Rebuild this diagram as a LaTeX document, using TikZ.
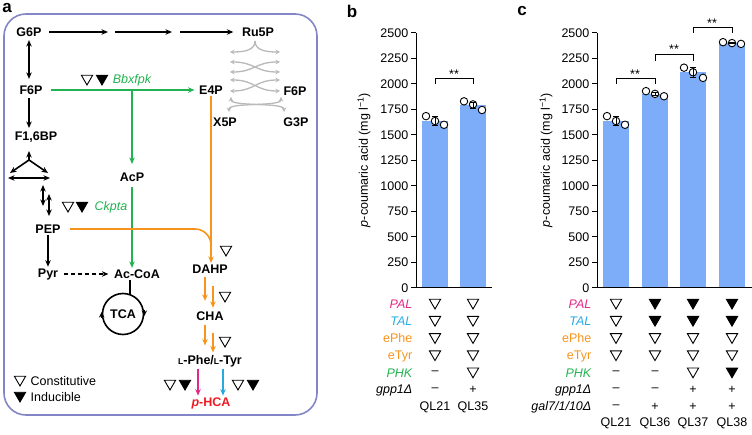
\documentclass[tikz,border=0pt]{standalone}
\usepackage{fontspec}
\setmainfont{Liberation Sans}
\usetikzlibrary{arrows.meta,shapes.geometric}
\definecolor{boxline}{RGB}{130,134,198}
\definecolor{pkgreen}{RGB}{35,178,80}
\definecolor{aroorange}{RGB}{247,148,30}
\definecolor{palpink}{RGB}{228,40,135}
\definecolor{talblue}{RGB}{40,170,225}
\definecolor{hcared}{RGB}{237,28,36}
\definecolor{pppgray}{RGB}{185,185,185}
\definecolor{barblue}{RGB}{125,172,248}
\newcommand{\smallL}{{\fontsize{8.5}{8.5}\selectfont L}}
\newcommand{\ylab}{\textit{p}-coumaric acid (mg l\textsuperscript{−1})}

\begin{document}
\begin{tikzpicture}[x=1pt,y=-1pt,>={Stealth[length=6.5pt,width=5.5pt]},
    every node/.style={font=\fontsize{12.5}{14}\selectfont,inner sep=1.5pt},
    met/.style={font=\fontsize{12.5}{14}\selectfont\bfseries},
    panel/.style={font=\fontsize{17}{18}\selectfont\bfseries},
    gene/.style={font=\fontsize{12.5}{14}\selectfont\itshape},
    flux/.style={line width=1.6pt,->},
    dflux/.style={line width=1.6pt,<->},
    gflux/.style={flux,pkgreen},
    oflux/.style={flux,aroorange},
    ppp/.style={pppgray,line width=1.3pt,{Stealth[length=4.5pt,width=4.5pt]}-{Stealth[length=4.5pt,width=4.5pt]}},
    pppend/.style={pppgray,line width=1.3pt,-{Stealth[length=4.5pt,width=4.5pt]}},
    opentri/.style={draw,regular polygon,regular polygon sides=3,shape border rotate=180,minimum size=13pt,inner sep=0pt,line width=0.9pt,yshift=1.5pt},
    filltri/.style={opentri,fill=black},
    cello/.style={opentri,node contents={}},
    cellf/.style={filltri,node contents={}},
    celln/.style={node contents={–}},
    cellp/.style={node contents={+}},
    dot/.style={circle,draw,fill=white,minimum size=7.5pt,inner sep=0pt,line width=0.9pt},
    errbar/.style={line width=0.9pt},
    sig/.style={line width=0.8pt},
    axisline/.style={line width=1pt},
    rowlab/.style={anchor=east}]
\useasboundingbox (0,0) rectangle (752,435);

\node[panel] (la) at (7,8) {a};
\draw[boxline,line width=1.6pt,rounded corners=22pt] (4,14) rectangle (317,415);

\node[met] (g6p) at (29,32) {G6P};
\node[met] (ru5p) at (258,32) {Ru5P};
\node[met] (f6p) at (31,90) {F6P};
\node[met] (e4p) at (211,90) {E4P};
\node[met] (f6pb) at (295,91) {F6P};
\node[met] (x5p) at (225,122) {X5P};
\node[met] (g3p) at (296,122) {G3P};
\node[met] (f16bp) at (36,137) {F1,6BP};
\node[met] (acp) at (132,177) {AcP};
\node[met] (pep) at (48,229) {PEP};
\node[met] (pyr) at (48,274) {Pyr};
\node[met] (acoa) at (137,274) {Ac-CoA};
\node[met,circle,draw,line width=1.6pt,minimum size=41pt,inner sep=0pt] (tca) at (123,314) {TCA};
\node[met] (dahp) at (210,269) {DAHP};
\node[met] (cha) at (210,316) {CHA};
\node[met] (phe) at (210,361) {\smallL-Phe/\smallL-Tyr};
\node[met,text=hcared] (phca) at (211,403) {\textit{p}-HCA};

\coordinate (ox1) at (108,32);
\coordinate (ox2) at (115,32);
\coordinate (ox3) at (172,32);
\coordinate (ox4) at (180,32);
\draw[flux,shorten <=6pt] (g6p.east) -- (ox1);
\draw[flux] (ox2) -- (ox3);
\draw[flux,shorten >=7pt] (ox4) -- (ru5p.west);
\draw[dflux,shorten <=2pt,shorten >=5pt] (g6p.south) -- (g6p.south |- f6p.north);
\draw[flux,shorten <=2pt,shorten >=2pt] (f6p.south -| g6p.south) -- (f16bp.north -| g6p.south);

\coordinate (fj) at (29,160);
\coordinate (fu) at (29,151);
\coordinate (fl) at (10,173);
\coordinate (fr) at (48,173);
\coordinate (gl) at (8,178);
\coordinate (gr) at (50,178);
\draw[flux] (fj) -- (fu);
\draw[flux] (fj) -- (fl);
\draw[flux] (fj) -- (fr);
\draw[dflux] (gl) -- (gr);

\coordinate (pa1) at (43,185);
\coordinate (pa2) at (43,206);
\coordinate (pb1) at (49,194);
\coordinate (pb2) at (49,216);
\draw[dflux] (pa1) -- (pa2);
\draw[dflux] (pb1) -- (pb2);

\coordinate (jb) at (132,90);
\draw[gflux,shorten <=7pt,shorten >=3pt] (f6p.east) -- (e4p.west);
\draw[gflux,shorten >=7pt] (jb) -- (acp.north);
\draw[gflux,shorten <=4pt] (acp.south) -- (acp.south |- acoa.north);
\node[opentri] (bbo) at (87,80) {};
\node[filltri] (bbf) at (102,80) {};
\node[gene,text=pkgreen] (bbx) at (132,80) {Bbxfpk};
\node[opentri] (cko) at (68,207) {};
\node[filltri] (ckf) at (82,207) {};
\node[gene,text=pkgreen] (ckp) at (111,207) {Ckpta};

\draw[flux] (pep) -- (pyr);
\draw[flux,dash pattern=on 4pt off 3pt,shorten <=4pt,shorten >=4pt] (pyr) -- (acoa);
\draw[line width=1.6pt] (acoa.south -| tca.70) -- (tca.70);
\draw[line width=1.6pt,-{Stealth[length=5.5pt,width=5.5pt]}] ([yshift=-4pt]tca.west) -- ([yshift=2pt]tca.west);
\draw[line width=1.6pt,-{Stealth[length=5.5pt,width=5.5pt]}] ([yshift=4pt]tca.east) -- ([yshift=-2pt]tca.east);

\coordinate (oj) at (pep.east -| e4p.south);
\draw[oflux] (e4p.south) -- (e4p.south |- dahp.north);
\draw[aroorange,line width=1.6pt,rounded corners=16pt,shorten <=8pt] (pep.east) -- (oj) -- ++(0,30);
\draw[oflux,shorten <=2pt,shorten >=9pt] ([xshift=-5pt]dahp.south) -- ([xshift=-5pt]cha.north);
\draw[oflux,shorten <=11pt,shorten >=2pt] ([xshift=3pt]dahp.south) -- ([xshift=3pt]cha.north);
\draw[oflux,shorten <=3pt,shorten >=8pt] ([xshift=-5pt]cha.south) -- ([xshift=-5pt]phe.north);
\draw[oflux,shorten <=11pt,shorten >=1pt] ([xshift=3pt]cha.south) -- ([xshift=3pt]phe.north);
\node[opentri] (dao) at (226,251) {};
\node[opentri] (cho) at (225,297) {};
\node[opentri] (pho) at (225,342) {};

\coordinate (mk) at ([xshift=-12pt]phe.south);
\coordinate (cy) at ([xshift=13pt]phe.south);
\draw[flux,palpink] (mk) -- (mk |- phca.north);
\draw[flux,talblue] (cy) -- (cy |- phca.north);
\node[opentri] (pao) at (170,385) {};
\node[filltri] (paf) at (185,385) {};
\node[opentri] (tao) at (238,385) {};
\node[filltri] (taf) at (253,385) {};

\node[opentri] (lgo) at (20,381) {};
\node[anchor=west] (lgot) at (29,381) {Constitutive};
\node[filltri] (lgf) at (20,397) {};
\node[anchor=west] (lgft) at (29,397) {Inducible};

\coordinate (pv) at (255,41);
\coordinate (pl1) at (230,52);
\coordinate (pr1) at (280,52);
\coordinate (pl2) at (230,62);
\coordinate (pr2) at (280,62);
\coordinate (pl3) at (230,72);
\coordinate (pr3) at (280,72);
\coordinate (pl4) at (230,80);
\coordinate (pr4) at (280,80);
\coordinate (pl5) at (230,91);
\coordinate (pr5) at (280,91);
\coordinate (pl6) at (231,97);
\coordinate (pr6) at (281,97);
\coordinate (pl7) at (229,112);
\coordinate (pr7) at (284,112);
\draw[pppend] (pv) .. controls (255,50) and (245,52) .. (pl1);
\draw[pppend] (pv) .. controls (255,50) and (265,52) .. (pr1);
\draw[ppp] (pl2) .. controls (255,62) and (255,72) .. (pr3);
\draw[ppp] (pr2) .. controls (255,62) and (255,72) .. (pl3);
\draw[ppp] (pl4) .. controls (255,80) and (255,91) .. (pr5);
\draw[ppp] (pr4) .. controls (255,80) and (255,91) .. (pl5);
\draw[ppp] (pl6) .. controls (231,107) and (284,102) .. (pr7);
\draw[ppp] (pr6) .. controls (281,107) and (229,102) .. (pl7);

\node[panel] (lb) at (352,11) {b};
\node[rotate=90] (bylab) at (364,160) {\ylab};
\begin{scope}[shift={(416,288)},y=0.102pt]
  \fill[barblue] (6,0) rectangle (32,1637);
  \fill[barblue] (44,0) rectangle (70,1792);
  \draw[axisline] (0,2500) -- (0,0) -- (76,0);
  \foreach \v in {0,250,...,2500}{
    \draw[axisline] (0,\v) -- (-5,\v);
    \node[anchor=east] (bt\v) at (-6,\v) {\v};
  }
  \node[dot] (bp11) at (10,1685) {};
  \node[dot] (bp12) at (19,1637) {};
  \node[dot] (bp13) at (28,1600) {};
  \node[dot] (bp21) at (48,1830) {};
  \node[dot] (bp22) at (57,1800) {};
  \node[dot] (bp23) at (66,1745) {};
  \draw[errbar] (16,1592) -- (22,1592) (19,1592) -- (19,1682) (16,1682) -- (22,1682);
  \draw[errbar] (54,1762) -- (60,1762) (57,1762) -- (57,1822) (54,1822) -- (60,1822);
  \draw[sig] (19,2000) -- (19,2050) -- (57,2050) -- (57,2000);
  \node (bsig) at (38,2095) {**};
\end{scope}
\node[rowlab,gene,text=palpink] (blpal) at (414,304) {PAL};
\node[rowlab,gene,text=talblue] (bltal) at (414,321) {TAL};
\node[rowlab,text=aroorange] (blphe) at (414,338) {ePhe};
\node[rowlab,text=aroorange] (bltyr) at (414,356) {eTyr};
\node[rowlab,gene,text=pkgreen] (blphk) at (414,373) {PHK};
\node[rowlab,gene] (blgpp) at (414,390) {gpp1Δ};
\foreach \x/\syms [count=\c] in {435/{o,o,o,o,n,n},473/{o,o,o,o,o,p}}{
  \foreach \s [count=\r] in \syms{
    \pgfmathsetmacro\yy{286.8+17.2*\r}
    \node (bc\c r\r) at (\x,\yy) [cell\s];
  }
}
\node (bq1) at (435,407) {QL21};
\node (bq2) at (473,407) {QL35};

\node[panel] (lc) at (522,11) {c};
\node[rotate=90] (cylab) at (546,160) {\ylab};
\begin{scope}[shift={(597,288)},y=0.102pt]
  \fill[barblue] (6,0) rectangle (32,1637);
  \fill[barblue] (45,0) rectangle (71,1903);
  \fill[barblue] (83,0) rectangle (109,2115);
  \fill[barblue] (122,0) rectangle (148,2401);
  \draw[axisline] (0,2500) -- (0,0) -- (155,0);
  \foreach \v in {0,250,...,2500}{
    \draw[axisline] (0,\v) -- (-5,\v);
    \node[anchor=east] (ct\v) at (-6,\v) {\v};
  }
  \node[dot] (cp11) at (10,1685) {};
  \node[dot] (cp12) at (19,1637) {};
  \node[dot] (cp13) at (28,1600) {};
  \node[dot] (cp21) at (49,1930) {};
  \node[dot] (cp22) at (58,1903) {};
  \node[dot] (cp23) at (67,1880) {};
  \node[dot] (cp31) at (87,2160) {};
  \node[dot] (cp32) at (96,2115) {};
  \node[dot] (cp33) at (106,2060) {};
  \node[dot] (cp41) at (126,2410) {};
  \node[dot] (cp42) at (135,2401) {};
  \node[dot] (cp43) at (144,2393) {};
  \draw[errbar] (16,1592) -- (22,1592) (19,1592) -- (19,1682) (16,1682) -- (22,1682);
  \draw[errbar] (55,1888) -- (61,1888) (58,1888) -- (58,1918) (55,1918) -- (61,1918);
  \draw[errbar] (93,2065) -- (99,2065) (96,2065) -- (96,2165) (93,2165) -- (99,2165);
  \draw[errbar] (132,2393) -- (138,2393) (135,2393) -- (135,2409) (132,2409) -- (138,2409);
  \draw[sig] (19,2000) -- (19,2050) -- (58,2050) -- (58,2000);
  \draw[sig] (58,2225) -- (58,2292) -- (96,2292) -- (96,2225);
  \draw[sig] (96,2500) -- (96,2550) -- (135,2550) -- (135,2500);
  \node (csig1) at (38,2095) {**};
  \node (csig2) at (77,2337) {**};
  \node (csig3) at (115,2595) {**};
\end{scope}
\node[rowlab,gene,text=palpink] (clpal) at (593,304) {PAL};
\node[rowlab,gene,text=talblue] (cltal) at (593,321) {TAL};
\node[rowlab,text=aroorange] (clphe) at (593,338) {ePhe};
\node[rowlab,text=aroorange] (cltyr) at (593,356) {eTyr};
\node[rowlab,gene,text=pkgreen] (clphk) at (593,373) {PHK};
\node[rowlab,gene] (clgpp) at (593,390) {gpp1Δ};
\node[rowlab,gene] (clgal) at (593,407) {gal7/1/10Δ};
\foreach \x/\syms [count=\c] in {616/{o,o,o,o,n,n,n},655/{f,f,o,o,n,n,p},693/{f,f,o,o,o,p,p},732/{f,f,o,o,f,p,p}}{
  \foreach \s [count=\r] in \syms{
    \pgfmathsetmacro\yy{286.8+17.2*\r}
    \node (cc\c r\r) at (\x,\yy) [cell\s];
  }
}
\node (cq1) at (616,423) {QL21};
\node (cq2) at (655,423) {QL36};
\node (cq3) at (693,423) {QL37};
\node (cq4) at (732,423) {QL38};
\end{tikzpicture}
\end{document}
